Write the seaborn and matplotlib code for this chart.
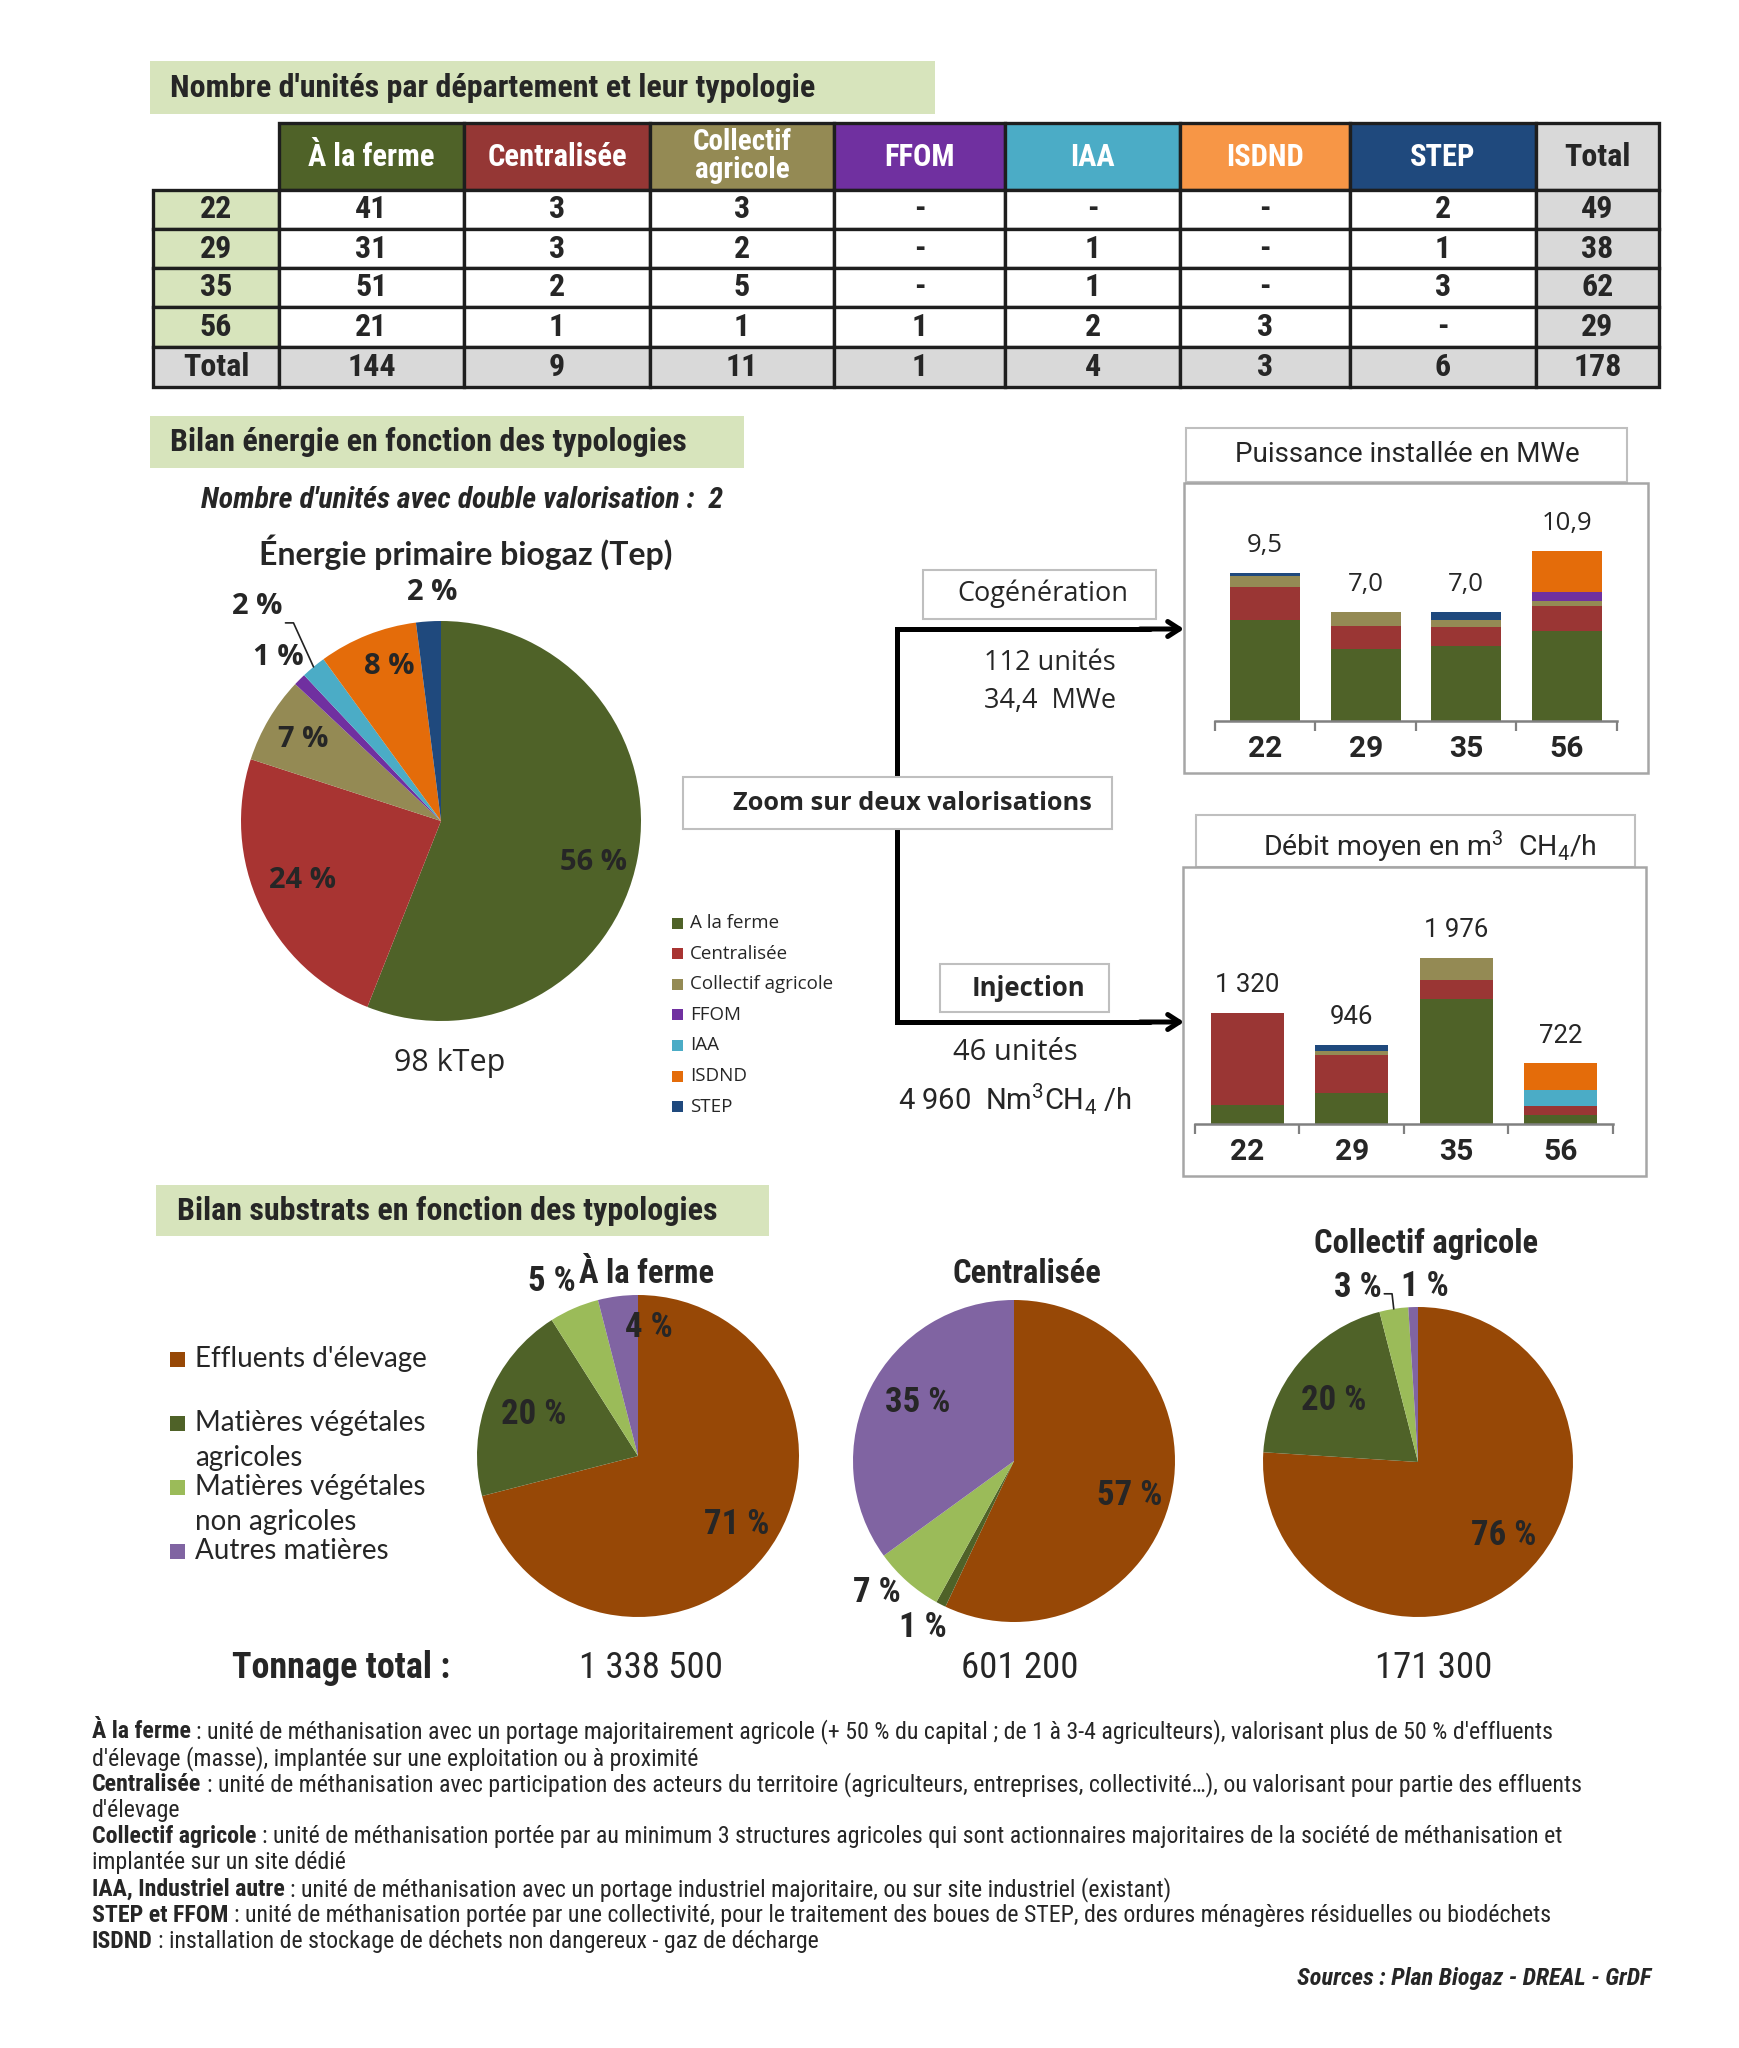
import matplotlib
matplotlib.use("Agg")
import matplotlib.pyplot as plt
from matplotlib import font_manager
from matplotlib.patches import Rectangle
import seaborn as sns
import numpy as np
import pandas as pd

# ---------------------------------------------------------------- data
departements = ["22", "29", "35", "56"]
typologies = ["À la ferme", "Centralisée", "Collectif agricole", "FFOM", "IAA", "ISDND", "STEP"]

# nombre d'unités par département (None = "-")
unites_22 = [41, 3, 3, None, None, None, 2]
unites_29 = [31, 3, 2, None, 1, None, 1]
unites_35 = [51, 2, 5, None, 1, None, 3]
unites_56 = [21, 1, 1, 1, 2, 3, None]

# énergie primaire biogaz (%)
energie_pct = [56, 24, 7, 1, 2, 8, 2]
energie_total = "98 kTep"
double_valorisation = 2

# puissance installée en MWe (cogénération)
puissance_22 = [6.5, 2.1, 0.7, 0, 0, 0, 0.2]
puissance_29 = [4.6, 1.5, 0.9, 0, 0, 0, 0]
puissance_35 = [4.8, 1.2, 0.5, 0, 0, 0, 0.5]
puissance_56 = [5.8, 1.6, 0.3, 0.6, 0, 2.6, 0]

# débit moyen en m3 CH4/h (injection)
debit_22 = [230, 1090, 0, 0, 0, 0, 0]
debit_29 = [370, 446, 50, 0, 0, 0, 80]
debit_35 = [1486, 227, 263, 0, 0, 0, 0]
debit_56 = [104, 116, 0, 0, 179, 323, 0]

cogen_unites = 112
injection_unites = 46
injection_debit = "4 960"

# bilan substrats (%)
substrats = ["Effluents d'élevage", "Matières végétales\nagricoles",
             "Matières végétales\nnon agricoles", "Autres matières"]
substrats_ferme = [71, 20, 5, 4]
substrats_centralisee = [57, 1, 7, 35]
substrats_collectif = [76, 20, 3, 1]
tonnages = [1338500, 601200, 171300]

notes = [
    ("À la ferme", ": unité de méthanisation avec un portage majoritairement agricole (+ 50 % du capital ; de 1 à 3-4 agriculteurs), valorisant plus de 50 % d'effluents"),
    (None, "d'élevage (masse), implantée sur une exploitation ou à proximité"),
    ("Centralisée", ": unité de méthanisation avec participation des acteurs du territoire (agriculteurs, entreprises, collectivité…), ou valorisant pour partie des effluents"),
    (None, "d'élevage"),
    ("Collectif agricole", ": unité de méthanisation portée par au minimum 3 structures agricoles qui sont actionnaires majoritaires de la société de méthanisation et"),
    (None, "implantée sur un site dédié"),
    ("IAA, Industriel autre", ": unité de méthanisation avec un portage industriel majoritaire, ou sur site industriel (existant)"),
    ("STEP et FFOM", ": unité de méthanisation portée par une collectivité, pour le traitement des boues de STEP, des ordures ménagères résiduelles ou biodéchets"),
    ("ISDND", ": installation de stockage de déchets non dangereux - gaz de décharge"),
]

# ---------------------------------------------------------------- style
table_colors = ["#4F6228", "#953735", "#948A54", "#7030A0", "#4BACC6", "#F79646", "#1F497D"]
chart_colors = ["#4F6228", "#9A3634", "#948A54", "#7030A0", "#4BACC6", "#E46C0A", "#1F497D"]
pie_colors = ["#4F6228", "#A83432", "#948A54", "#7030A0", "#4BACC6", "#E46C0A", "#1F497D"]
substrat_colors = ["#974806", "#4F6228", "#9BBB59", "#8064A2"]
GREEN_BG = "#D7E4BC"
GREY_BG = "#D9D9D9"

W, H = 1740, 2048
sns.set_theme(style="white")
available = {f.name for f in font_manager.fontManager.ttflist}


def pick(*names):
    for n in names:
        if n in available:
            return n
    return "DejaVu Sans"


COND = pick("Roboto Condensed", "Liberation Sans Narrow", "Roboto")
ROBOTO = pick("Roboto")
OPEN = pick("Open Sans")
LATO = pick("Lato")
plt.rcParams["font.family"] = [ROBOTO, "DejaVu Sans"]
plt.rcParams["mathtext.fontset"] = "custom"
plt.rcParams["mathtext.rm"] = ROBOTO
plt.rcParams["mathtext.default"] = "regular"


def px_rect(x0, y0, x1, y1):
    return [x0 / W, 1 - y1 / H, (x1 - x0) / W, (y1 - y0) / H]


fig = plt.figure(figsize=(W / 100, H / 100), dpi=100)
fig.patch.set_facecolor("white")

# background axes in pixel coordinates (y pointing down)
bg = fig.add_axes([0, 0, 1, 1])
bg.set_xlim(0, W)
bg.set_ylim(H, 0)
bg.axis("off")


def box(x0, y0, x1, y1, fc="white", ec="none", lw=1.5, z=1):
    bg.add_patch(Rectangle((x0, y0), x1 - x0, y1 - y0, facecolor=fc,
                           edgecolor=ec, linewidth=lw, zorder=z))


def txt(x, y, s, size, weight="normal", family=None, ha="center", va="center",
        style="normal", z=5, **kw):
    return bg.text(x, y, s, fontsize=size, fontweight=weight,
                   family=family or ROBOTO, ha=ha, va=va, style=style, zorder=z, **kw)


# ---------------------------------------------------------------- table
box(150, 61, 935, 114, fc=GREEN_BG)
txt(170, 88, "Nombre d'unités par département et leur typologie", 23, "bold", COND, ha="left")

units = [unites_22, unites_29, unites_35, unites_56]
header = [""] + [t.replace("Collectif ", "Collectif\n") for t in typologies] + ["Total"]
body = []
for d, row in zip(departements, units):
    body.append([d] + ["-" if v is None else str(v) for v in row]
                + [str(sum(v or 0 for v in row))])
col_tot = [sum(row[i] or 0 for row in units) for i in range(len(typologies))]
body.append(["Total"] + [str(v) for v in col_tot] + [str(sum(col_tot))])

tab_ax = fig.add_axes(px_rect(153, 123, 1659, 387))
tab_ax.axis("off")
table = tab_ax.table(cellText=[header] + body, cellLoc="center", bbox=[0, 0, 1, 1])
table.auto_set_font_size(False)
col_w = [126, 185, 186, 184, 171, 175, 170, 186, 123]
row_h = [67, 39, 39, 39, 40, 40]
n_rows = len(body) + 1
for (r, c), cell in table.get_celld().items():
    cell.set_width(col_w[c])
    cell.set_height(row_h[r])
    cell.set_edgecolor("#1E1E1E")
    cell.set_linewidth(2.4)
    t = cell.get_text()
    t.set_fontweight("bold")
    t.set_fontfamily(COND)
    t.set_fontsize(23)
    if r == 0:
        t.set_fontsize(22)
        if c == 0:
            cell.visible_edges = ""
        elif c <= len(typologies):
            cell.set_facecolor(table_colors[c - 1])
            t.set_color("white")
            if "\n" in t.get_text():
                t.set_fontsize(21)
                t.set_linespacing(1.0)
        else:
            cell.set_facecolor(GREY_BG)
            t.set_fontsize(23)
    elif r == n_rows - 1 or c == len(header) - 1:
        cell.set_facecolor(GREY_BG)
    elif c == 0:
        cell.set_facecolor(GREEN_BG)

# ---------------------------------------------------------------- energy
box(150, 416, 744, 468, fc=GREEN_BG)
txt(170, 442, "Bilan énergie en fonction des typologies", 23, "bold", COND, ha="left")
txt(462, 500, f"Nombre d'unités avec double valorisation :  {double_valorisation}",
    21.5, "bold", COND, style="italic")
txt(466, 552, "Énergie primaire biogaz (Tep)", 23, "bold", LATO)
txt(450, 1063, energie_total, 22, "normal", OPEN)


def pie_at(cx, cy, r, values, colors, label_pos, size, family, lim=1.6):
    s = r * lim
    ax = fig.add_axes(px_rect(cx - s, cy - s, cx + s, cy + s))
    wedges, _ = ax.pie(values, colors=colors, startangle=90, counterclock=False,
                       radius=1, wedgeprops=dict(linewidth=0))
    ax.set_xlim(-lim, lim)
    ax.set_ylim(-lim, lim)
    ax.set_aspect("equal")
    pos = []
    for w, v, (d, da) in zip(wedges, values, label_pos):
        a = np.deg2rad((w.theta1 + w.theta2) / 2 + da)
        p = (d * np.cos(a), d * np.sin(a))
        ax.text(p[0], p[1], f"{v} %", ha="center", va="center", fontsize=size,
                fontweight="bold", family=family)
        pos.append(p)
    return ax, wedges, pos


def leader(ax, wedge, p, dx, dy, run):
    a = np.deg2rad((wedge.theta1 + wedge.theta2) / 2)
    xs = [p[0] + dx, p[0] + dx + run, np.cos(a)]
    ys = [p[1] + dy, p[1] + dy, np.sin(a)]
    ax.plot(xs, ys, color="#222222", lw=1.2)


e_ax, e_w, e_pos = pie_at(441, 821, 200, energie_pct, pie_colors,
                          [(0.79, -4.6), (0.755, -2), (0.8, 0), (1.153, 0),
                           (1.41, 1), (0.813, -3), (1.145, -1.5)], 21, OPEN)
leader(e_ax, e_w[4], e_pos[4], 0.14, -0.08, 0.04)

legend_labels = ["A la ferme"] + typologies[1:]
for i, (lab, col) in enumerate(zip(legend_labels, pie_colors)):
    y = 923 + i * 30.6
    box(672, y - 5.5, 683, y + 5.5, fc=col, z=3)
    txt(690, y, lab, 13.5, "normal", OPEN, ha="left")

# ---------------------------------------------------------------- zoom / arrows
bg.plot([1150, 897, 897, 1150], [629, 629, 1022, 1022], color="black", lw=3.6,
        solid_joinstyle="miter", zorder=2)
for y in (629, 1022):
    bg.annotate("", xy=(1184, y), xytext=(1140, y), zorder=2,
                arrowprops=dict(arrowstyle="->,head_length=0.7,head_width=0.45",
                                lw=3.6, color="black", shrinkA=0, shrinkB=0))
box(683, 777, 1112, 829, fc="white", ec="#BFBFBF", z=3)
txt(912, 803, "Zoom sur deux valorisations", 18.3, "bold", OPEN)
box(923, 570, 1156, 619, fc="white", ec="#BFBFBF", z=3)
txt(1043, 594, "Cogénération", 19.5, "normal", OPEN)
txt(1050, 663, f"{cogen_unites} unités", 19.5, "normal", OPEN)
txt(1050, 701, f"{sum(puissance_22 + puissance_29 + puissance_35 + puissance_56):.1f}".replace(".", ",")
    + "  MWe", 19.5, "normal", OPEN)
box(940, 964, 1109, 1012, fc="white", ec="#BFBFBF", z=3)
txt(1028, 989, "Injection", 18.5, "bold", OPEN)
txt(1015, 1053, f"{injection_unites} unités", 21, "normal", OPEN)
txt(1015, 1099, injection_debit + "  Nm$^{3}$CH$_{4}$ /h", 21, "normal", ROBOTO)


def stacked(rect, rows, ppu, fmt, label_dy, label_family):
    ax = fig.add_axes(px_rect(*rect))
    ax.set_facecolor("none")
    df = pd.DataFrame(rows, index=departements, columns=typologies)
    cum = df.cumsum(axis=1)
    # draw cumulative heights from top layer down so each segment stays visible
    for t, col in list(zip(typologies, chart_colors))[::-1]:
        sns.barplot(x=departements, y=cum[t].to_numpy(), color=col, width=0.7,
                    saturation=1, errorbar=None, linewidth=0, ax=ax)
    totals = cum[typologies[-1]].to_numpy()
    for i, v in enumerate(totals):
        ax.annotate(fmt(v), xy=(i, v), xytext=(0, label_dy), textcoords="offset points",
                    ha="center", va="center", fontsize=18.5, family=label_family)
    ax.set_xlim(-0.5, 3.5)
    ax.set_ylim(0, (rect[3] - rect[1]) / ppu)
    ax.set(xlabel="", ylabel="", yticks=[])
    for sp in ("top", "left", "right"):
        ax.spines[sp].set_visible(False)
    ax.spines["bottom"].set_color("#808080")
    ax.spines["bottom"].set_linewidth(1.8)
    ax.set_xticks(np.arange(-0.5, 4, 1), minor=True)
    ax.tick_params(axis="x", which="major", length=0, pad=10, labelsize=21.5)
    ax.tick_params(axis="x", which="minor", bottom=True, length=7, width=1.6,
                   color="#808080", direction="out")
    for lbl in ax.get_xticklabels():
        lbl.set_fontweight("bold")
    return ax


box(1186, 428, 1627, 482, ec="#BFBFBF", z=1)
txt(1407, 455, "Puissance installée en MWe", 20, "normal", ROBOTO)
box(1184, 483, 1648, 773, fc="none", ec="#A6A6A6", lw=1.8, z=1)
stacked((1215, 485, 1617, 721), [puissance_22, puissance_29, puissance_35, puissance_56],
        15.6, lambda v: f"{v:.1f}".replace(".", ","), 20, OPEN)

box(1196, 815, 1635, 867, ec="#BFBFBF", z=1)
txt(1430, 847, "Débit moyen en m$^{3}$  CH$_{4}$/h", 20.5, "normal", ROBOTO)
box(1183, 867, 1646, 1176, fc="none", ec="#A6A6A6", lw=1.8, z=1)
stacked((1195, 869, 1613, 1124), [debit_22, debit_29, debit_35, debit_56],
        0.084, lambda v: f"{int(round(v)):,}".replace(",", " "), 20, ROBOTO)

# ---------------------------------------------------------------- substrats
box(156, 1185, 769, 1236, fc=GREEN_BG)
txt(177, 1211, "Bilan substrats en fonction des typologies", 23, "bold", COND, ha="left")

for i, (lab, col) in enumerate(zip(substrats, substrat_colors)):
    y = 1359 + i * 64
    box(170, y - 7.5, 185, y + 7.5, fc=col, z=3)
    txt(195, y - 13, lab, 20, "normal", LATO, ha="left", va="top", linespacing=1.45)

f_ax, f_w, f_pos = pie_at(638, 1456, 161, substrats_ferme, substrat_colors,
                          [(0.75, 3), (0.70, 0), (1.207, 3), (0.80, -12)], 25, COND)
c_ax, c_w, c_pos = pie_at(1014, 1461, 161, substrats_centralisee, substrat_colors,
                          [(0.75, -4), (1.18, -1.5), (1.18, -5), (0.70, -4.5)], 25, COND)
k_ax, k_w, k_pos = pie_at(1418, 1462, 155, substrats_collectif, substrat_colors,
                          [(0.73, 6), (0.67, 3.6), (1.19, 10), (1.135, -4)], 25, COND)
leader(k_ax, k_w[2], k_pos[2], 0.17, -0.04, 0.05)

txt(647, 1274, "À la ferme", 23.5, "bold", COND)
txt(1027, 1274, "Centralisée", 23.5, "bold", COND)
txt(1426, 1244, "Collectif agricole", 23.5, "bold", COND)

txt(341, 1668, "Tonnage total :", 26, "bold", COND)
for x, t in zip((651, 1020, 1434), tonnages):
    txt(x, 1668, f"{t:,}".replace(",", " "), 26.5, "normal", COND)

# ---------------------------------------------------------------- notes
renderer = fig.canvas.get_renderer()
trial = txt(0, 0, notes[0][0] + " " + notes[0][1], 14, "normal", COND, ha="left")
note_size = 14 * 1465 / trial.get_window_extent(renderer).width
trial.remove()

for i, (bold, rest) in enumerate(notes):
    y = 1732 + i * 26.2
    x = 92
    if bold:
        t = txt(x, y, bold, note_size, "bold", COND, ha="left")
        x = t.get_window_extent(renderer).x1 + note_size * 0.3
    txt(x, y, rest, note_size, "normal", COND, ha="left")

txt(1651, 1978, "Sources : Plan Biogaz - DREAL - GrDF", 17.5, "bold", COND,
    ha="right", style="italic")

fig.savefig("out.png", dpi=100)
